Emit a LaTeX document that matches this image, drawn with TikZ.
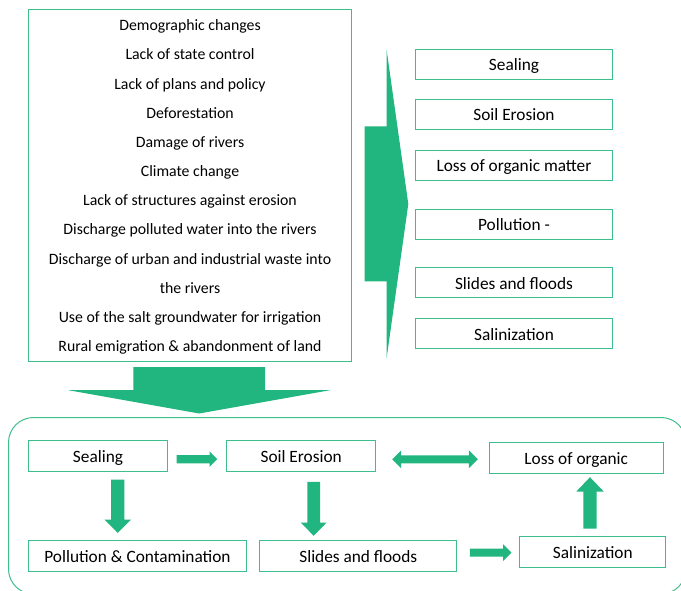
\documentclass[tikz,border=0pt]{standalone}
\usepackage{fontspec}
\setmainfont{Carlito}
\usetikzlibrary{calc}

\definecolor{arrowgreen}{HTML}{21B67F}
\definecolor{boxgreen}{HTML}{3DBF8D}

% Block arrows drawn as filled outlines.
% #1 start, #2 tip, #3 half shaft width, #4 half head width, #5 head length
\newcommand\harrow[5]{%
  \fill[fat] let \p1=(#1), \p2=(#2), \n1={ifthenelse(\x2>\x1,1,-1)*#5} in
    (\x1,\y1-#3) -- (\x2-\n1,\y1-#3) -- (\x2-\n1,\y1-#4) -- (\x2,\y1)
    -- (\x2-\n1,\y1+#4) -- (\x2-\n1,\y1+#3) -- (\x1,\y1+#3) -- cycle;}
\newcommand\varrow[5]{%
  \fill[fat] let \p1=(#1), \p2=(#2), \n1={ifthenelse(\y2>\y1,1,-1)*#5} in
    (\x1-#3,\y1) -- (\x1-#3,\y2-\n1) -- (\x1-#4,\y2-\n1) -- (\x1,\y2)
    -- (\x1+#4,\y2-\n1) -- (\x1+#3,\y2-\n1) -- (\x1+#3,\y1) -- cycle;}
\newcommand\dharrow[5]{%
  \fill[fat] let \p1=(#1), \p2=(#2) in
    (\x1,\y1) -- (\x1+#5,\y1+#4) -- (\x1+#5,\y1+#3) -- (\x2-#5,\y1+#3)
    -- (\x2-#5,\y1+#4) -- (\x2,\y1) -- (\x2-#5,\y1-#4) -- (\x2-#5,\y1-#3)
    -- (\x1+#5,\y1-#3) -- (\x1+#5,\y1-#4) -- cycle;}

\begin{document}
\begin{tikzpicture}[x=1pt,y=-1pt,
  font=\fontsize{15.8}{19}\selectfont,
  card/.style={draw=boxgreen, line width=1pt, fill=white, inner sep=0pt,
    minimum height=31pt, text height=17pt, text depth=3.5pt,
    font=\fontsize{17.3}{20}\selectfont},
  fat/.style={fill=arrowgreen}]
\useasboundingbox (0,0) rectangle (681,591);

% causes
\node[draw=boxgreen, line width=1pt, minimum width=322.7pt, minimum height=352.5pt,
  inner sep=0pt] (causes) at (189.7,185.7) {};
\node[align=center, inner sep=0pt, font=\fontsize{15.8}{29.15}\selectfont]
  (causelist) at (190,187) {Demographic changes\\
  Lack of state control\\
  Lack of plans and policy\\
  Deforestation\\
  Damage of rivers\\
  Climate change\\
  Lack of structures against erosion\\
  Discharge polluted water into the rivers\\
  Discharge of urban and industrial waste into\\
  the rivers\\
  Use of the salt groundwater for irrigation\\
  Rural emigration \& abandonment of land};

% consequences list
\begin{scope}[every node/.style={card, minimum width=196.6pt, minimum height=30.3pt}]
\node (rseal)  at (514,64.2)  {Sealing};
\node (rsoil)  at (514,114.2) {Soil Erosion};
\node (rloss)  at (514,165.2) {Loss of organic matter};
\node (rpoll)  at (514,224.2) {Pollution -};
\node (rslide) at (514,282.5) {Slides and floods};
\node (rsal)   at (514,333.8) {Salinization};
\end{scope}

% interaction panel
\node[draw=boxgreen, line width=1pt, rounded corners=25pt, minimum width=677.5pt,
  minimum height=176.5pt, inner sep=0pt] (panel) at (347.25,505.75) {};

\node[card, minimum width=139.4pt] (bseal)  at (98,455.7)    {Sealing};
\node[card, minimum width=149pt]   (bsoil)  at (301.2,455.8) {Soil Erosion};
\node[card, minimum width=173.7pt] (bloss)  at (576.2,458.2) {Loss of organic};
\node[card, minimum width=218.4pt] (bpoll)  at (137.5,556.2) {Pollution \& Contamination};
\node[card, minimum width=196.7pt] (bslide) at (358.3,555.8) {Slides and floods};
\node[card, minimum width=145.7pt] (bsal)   at (592.8,551.5) {Salinization};

% big arrows
\coordinate (listin) at (408.3,204);
\harrow{$(causes.east)+(13,18.3)$}{listin}{77.5pt}{154.3pt}{21.7pt}
\varrow{$(causes.south)+(9.5,4.7)$}{$(panel.north)+(-148.05,-3.5)$}{65.8pt}{130.8pt}{23.3pt}

% links inside the panel
\harrow{$(bseal.east)+(8.3,3.5)$}{$(bsoil.west)+(-9,3.4)$}{4.2pt}{7.8pt}{7.7pt}
\dharrow{$(bsoil.east)+(16,3.5)$}{$(bloss.west)+(-11,1.1)$}{4pt}{9pt}{9pt}
\harrow{$(bslide.east)+(12.6,-3.1)$}{$(bsal.west)+(-8,1.2)$}{4pt}{8.3pt}{8.3pt}
\varrow{$(bseal.south)+(19.7,8)$}{$(bpoll.north)+(-19.8,-7.4)$}{6.7pt}{13.3pt}{13.3pt}
\varrow{$(bsoil.south)+(12.5,10)$}{$(bslide.north)+(-44.6,-4)$}{6.3pt}{13pt}{13.3pt}
\varrow{$(bsal.north)+(-2.8,-7)$}{$(bloss.south)+(13.8,3)$}{6.7pt}{13.7pt}{14.3pt}
\end{tikzpicture}
\end{document}
